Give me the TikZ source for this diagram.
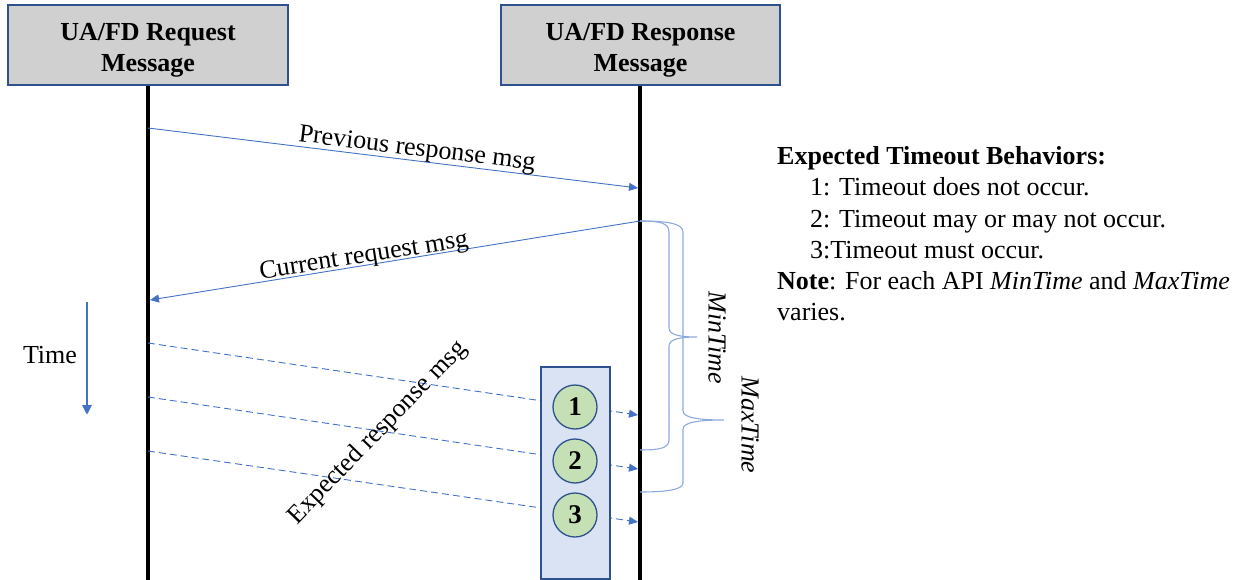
\documentclass[tikz,border=0pt]{standalone}
\usepackage{fontspec}
\setmainfont{Liberation Serif}
\usetikzlibrary{arrows.meta}
\definecolor{msgblue}{HTML}{4472C4}
\definecolor{edgeblue}{HTML}{2F528F}
\definecolor{braceblue}{HTML}{8EA9DB}
\definecolor{headgray}{HTML}{D0D0D0}
\definecolor{panelblue}{HTML}{DAE3F3}
\definecolor{circgreen}{HTML}{C5E0B4}

\begin{document}
\begin{tikzpicture}[x=1pt,y=-1pt,
  txt/.style={font=\fontsize{26}{31}\selectfont, inner sep=0pt},
  header/.style={draw=edgeblue, line width=1.5pt, fill=headgray, minimum height=80pt},
  headtext/.style={align=center, inner sep=0pt, font=\fontsize{26}{31}\selectfont\bfseries},
  lifeline/.style={line width=4pt, black},
  msg/.style={msgblue, line width=0.9pt, -{Triangle[length=9pt,width=8pt]}},
  dmsg/.style={msg, dash pattern=on 7pt off 4pt},
  panel/.style={draw=edgeblue, line width=1.3pt, fill=panelblue},
  numcirc/.style={circle, draw=edgeblue, line width=1.3pt, fill=circgreen,
    minimum size=44pt, inner sep=0pt, font=\fontsize{27}{31}\selectfont\bfseries},
  bracket/.style={braceblue, line width=1.1pt},
]
\useasboundingbox (0,0) rectangle (1233,580);

% lifeline ends and message anchor points
\coordinate (reqtop) at (148,85);
\coordinate (reqend) at (148,582);
\coordinate (rsptop) at (640,85);
\coordinate (rspend) at (640,582);

\coordinate (prevS) at (148,128);
\coordinate (prevE) at (638,188);
\coordinate (curS) at (640,221);
\coordinate (curE) at (150,300);
\coordinate (e1S) at (148,343);
\coordinate (e1E) at (638,415);
\coordinate (e2S) at (148,397);
\coordinate (e2E) at (638,469);
\coordinate (e3S) at (148,451);
\coordinate (e3E) at (638,522);

% lifelines
\draw[lifeline] (reqtop) -- (reqend);
\draw[lifeline] (rsptop) -- (rspend);

% participant headers
\node[header, minimum width=280pt] (req) at (148,45) {};
\node[header, minimum width=279pt] (rsp) at (640.5,45) {};
\node[headtext] (reqtxt) at (148,50) {UA/FD Request\\Message};
\node[headtext] (rsptxt) at (640.5,50) {UA/FD Response\\Message};

% solid messages
\draw[msg] (prevS) -- (prevE);
\draw[msg] (curS) -- (curE);
\node[txt, rotate=-7] (prevlbl) at (417,150) {Previous response msg};
\node[txt, rotate=9] (curlbl) at (364,257) {Current request msg};

% expected responses (dashed), partly hidden behind the outcome panel
\draw[dmsg] (e1S) -- (e1E);
\draw[dmsg] (e2S) -- (e2E);
\draw[dmsg] (e3S) -- (e3E);
\node[txt, rotate=46] (explbl) at (378,433) {Expected response msg};

% outcome panel with numbered cases
\node[panel, minimum width=69pt, minimum height=212pt, inner sep=0pt] (panel) at (575.5,473) {};
\node[numcirc] (c1) at (575,407) {1};
\node[numcirc] (c2) at (575,461) {2};
\node[numcirc] (c3) at (575,515) {3};

% time direction
\draw[msgblue, line width=2.5pt, -{Triangle[length=10pt,width=9pt]}] (87,302) -- (87,415);
\node[txt] (time) at (50,355) {Time};

% MinTime brace
\draw[bracket] (640,221) .. controls (660,221) and (669,223) .. (669,232)
  -- (669,328) .. controls (669,335) and (680,337) .. (697,337)
  .. controls (680,337) and (669,339) .. (669,346)
  -- (669,440) .. controls (669,448) and (660,450) .. (640,450);
% MaxTime brace
\draw[bracket] (640,221) .. controls (665,221) and (683,223) .. (683,232)
  -- (683,411) .. controls (683,418) and (700,420) .. (724,420)
  .. controls (700,420) and (683,422) .. (683,429)
  -- (683,483) .. controls (683,490) and (665,492) .. (640,492);
\node[txt, rotate=-90, font=\fontsize{26}{31}\selectfont\itshape] (minlbl) at (717,338) {MinTime};
\node[txt, rotate=-90, font=\fontsize{26}{31}\selectfont\itshape] (maxlbl) at (750,425) {MaxTime};

% legend
\node[txt, anchor=base west, font=\fontsize{26}{31}\selectfont\bfseries] (lg0) at (777,165) {Expected Timeout Behaviors:};
\node[txt, anchor=base west] (lg1) at (810,196) {1: Timeout does not occur.};
\node[txt, anchor=base west] (lg2) at (810,227) {2: Timeout may or may not occur.};
\node[txt, anchor=base west] (lg3) at (810,258) {3:Timeout must occur.};
\node[txt, anchor=base west] (lg4) at (777,289) {\textbf{Note}: For each API \textit{MinTime} and \textit{MaxTime}};
\node[txt, anchor=base west] (lg5) at (777,320) {varies.};
\end{tikzpicture}
\end{document}
